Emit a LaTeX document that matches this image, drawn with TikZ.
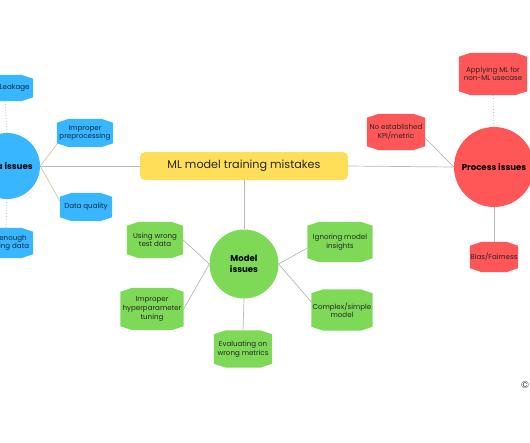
\documentclass[tikz,border=0pt]{standalone}
\usepackage{fontspec}
\setmainfont{Poppins}
\usetikzlibrary{calc}
\definecolor{cblue}{HTML}{38B6FF}
\definecolor{cred}{HTML}{FF5757}
\definecolor{cgreen}{HTML}{7ED957}
\definecolor{cyellow}{HTML}{FFDE59}
\definecolor{cline}{HTML}{B8B8B8}
\definecolor{ctan}{HTML}{CDBBA2}
\definecolor{navy}{HTML}{0E2A47}
\pgfdeclarelayer{lines}
\pgfdeclarelayer{shapes}
\pgfsetlayers{lines,shapes,main}
\newcommand\octbox[2]{%
  \begin{pgfonlayer}{shapes}
  \fill[#2] ($(#1.north west)+(0,4)$) -- ($(#1.north west)+(12,0)$) -- ($(#1.north east)+(-12,0)$) -- ($(#1.north east)+(0,4)$)
   -- ($(#1.south east)+(0,-4)$) -- ($(#1.south east)+(-12,0)$) -- ($(#1.south west)+(12,0)$) -- ($(#1.south west)+(0,-4)$) -- cycle;
  \end{pgfonlayer}}
\tikzset{
  box/.style={inner sep=0pt, align=center, font=\fontsize{7.1}{8.6}\selectfont, text=black!85},
  hub/.style={circle, inner sep=0pt, align=center, font=\fontsize{8.6}{10.5}\selectfont\bfseries, text=black},
  conn/.style={draw=cline, line width=0.7pt},
  dotconn/.style={draw=cline, line width=0.8pt, dotted},
}
\begin{document}
\begin{tikzpicture}[x=1pt,y=-1pt]
\useasboundingbox (0,0) rectangle (530,442);

% central node
\node[rounded corners=5pt, fill=cyellow, minimum width=208pt, minimum height=28pt, inner sep=0pt,
  font=\fontsize{11.2}{13}\selectfont, text=black!85] (main) at (244,166) {ML model training mistakes};

% hubs
\node[hub, fill=cblue, minimum size=66pt] (data) at (7,166) {Data issues};
\node[hub, fill=cred, minimum size=80pt] (proc) at (494,167) {Process issues};
\node[hub, fill=cgreen, minimum size=69pt] (model) at (244,264) {Model\\issues};

% data boxes
\node[box, text=navy, minimum width=56pt, minimum height=26pt] (leak) at (5,88) {Data Leakage};
\node[box, text=navy, minimum width=54pt, minimum height=30pt] (enough) at (6,243) {Not enough\\training data};
\node[box, text=navy, minimum width=56pt, minimum height=28pt] (prep) at (85,133) {Improper\\preprocessing};
\node[box, text=navy, minimum width=52pt, minimum height=28pt] (qual) at (86,207) {Data quality};
\octbox{leak}{cblue}\octbox{enough}{cblue}\octbox{prep}{cblue}\octbox{qual}{cblue}

% process boxes
\node[box, minimum width=68pt, minimum height=42pt] (apply) at (493,74) {Applying ML for\\non-ML usecase};
\node[box, minimum width=58pt, minimum height=36pt] (kpi) at (396,132) {No established\\KPI/metric};
\node[box, minimum width=48pt, minimum height=30pt] (bias) at (494,257) {Bias/Fairness};
\octbox{apply}{cred}\octbox{kpi}{cred}\octbox{bias}{cred}

% model boxes
\node[box, minimum width=56pt, minimum height=36pt] (test) at (155,240) {Using wrong\\test data};
\node[box, minimum width=63pt, minimum height=42pt] (hyper) at (152,309) {Improper\\hyperparameter\\tuning};
\node[box, minimum width=58pt, minimum height=37pt] (eval) at (243,349) {Evaluating on\\wrong metrics};
\node[box, minimum width=65pt, minimum height=40pt] (ignore) at (340,242) {Ignoring model\\insights};
\node[box, minimum width=61pt, minimum height=41pt] (complex) at (342,310) {Complex/simple\\model};
\octbox{test}{cgreen}\octbox{hyper}{cgreen}\octbox{eval}{cgreen}\octbox{ignore}{cgreen}\octbox{complex}{cgreen}

\node[font=\fontsize{10}{12}\selectfont, text=black!75, inner sep=0pt] (copy) at (525,385) {©};

\begin{pgfonlayer}{lines}
\draw[conn] (data.east) -- (main.west);
\draw[conn] (main.east) -- (proc.west);
\draw[conn] (main.south) -- (model.north);
\draw[dotconn] (data.north) -- (leak.south);
\draw[dotconn] (data.south) -- (enough.north);
\draw[draw=ctan, line width=0.6pt] (data.east) -- ($(prep.south west)+(1,-4)$);
\draw[draw=ctan, line width=0.6pt] (data.east) -- ($(qual.west)+(0,-6)$);
\draw[dotconn] (proc.north) -- (apply.south);
\draw[conn] (proc.south) -- (bias.north);
\draw[conn] ($(kpi.east)+(0,6)$) -- (proc.west);
\draw[conn] (model.west) -- (test.east);
\draw[conn] (model.west) -- (hyper.east);
\draw[conn] (model.east) -- ($(ignore.west)+(0,6)$);
\draw[conn] (model.east) -- ($(complex.west)+(0,-8)$);
\draw[conn] (model.south) -- (eval.north);
\end{pgfonlayer}
\end{tikzpicture}
\end{document}
